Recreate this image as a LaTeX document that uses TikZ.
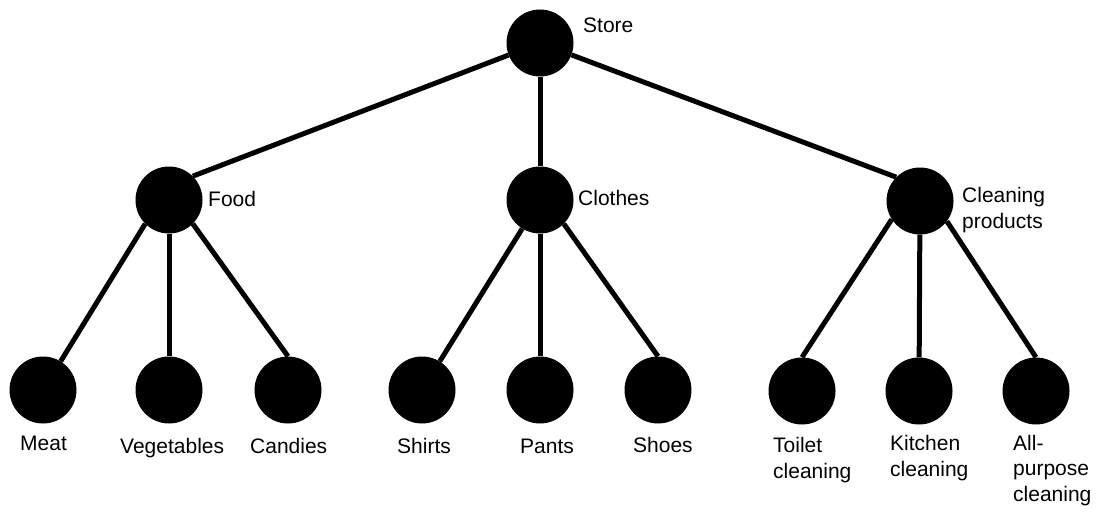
\documentclass[tikz,border=0pt]{standalone}
\usepackage{fontspec}
\setmainfont{Liberation Sans}
\begin{document}
\begin{tikzpicture}[x=1pt,y=-1pt,
  dot/.style={circle,fill=black,draw=none,minimum size=67pt,inner sep=0pt},
  link/.style={line width=5pt,draw=black},
  lab/.style={inner sep=0pt,font=\fontsize{21}{25.5}\selectfont,align=left,text=black}]
\useasboundingbox (0,0) rectangle (1102,511);
% circles
\node[dot] (store) at (540,43) {};
\node[dot] (food) at (169,200) {};
\node[dot] (clothes) at (540,200) {};
\node[dot] (clean) at (920,201) {};
\node[dot] (meat) at (43,390) {};
\node[dot] (veg) at (169,390) {};
\node[dot] (candies) at (288,390) {};
\node[dot] (shirts) at (422,390) {};
\node[dot] (pants) at (540,390) {};
\node[dot] (shoes) at (658,390) {};
\node[dot] (toilet) at (802,391) {};
\node[dot] (kitchen) at (919,391) {};
\node[dot] (allp) at (1036,391) {};
% connectors
\draw[link] (store) -- (food.north east);
\draw[link] (store) -- (clothes);
\draw[link] (store) -- (clean.north west);
\draw[link] (food.south west) -- (meat);
\draw[link] (food) -- (veg);
\draw[link] (food.south east) -- (candies.north);
\draw[link] (clothes) -- (shirts);
\draw[link] (clothes) -- (pants);
\draw[link] (clothes.south east) -- (shoes.north);
\draw[link] (clean.-147) -- (toilet.north);
\draw[link] (clean) -- (kitchen);
\draw[link] (clean.-37) -- (allp.north);
% labels (base anchor = baseline of last line)
\node[lab,anchor=base west] (tstore) at (583,33) {Store};
\node[lab,anchor=base west] (tfood) at (208,206) {Food};
\node[lab,anchor=base west] (tclothes) at (578,205) {Clothes};
\node[lab,anchor=base west] (tclean) at (962,228) {Cleaning\\products};
\node[lab,anchor=base west] (tmeat) at (20,450) {Meat};
\node[lab,anchor=base west] (tveg) at (120,453) {Vegetables};
\node[lab,anchor=base west] (tcandies) at (250,453) {Candies};
\node[lab,anchor=base west] (tshirts) at (397,453) {Shirts};
\node[lab,anchor=base west] (tpants) at (520,453) {Pants};
\node[lab,anchor=base west] (tshoes) at (633,452) {Shoes};
\node[lab,anchor=base west] (ttoilet) at (773,478) {Toilet\\cleaning};
\node[lab,anchor=base west] (tkitchen) at (890,476) {Kitchen\\cleaning};
\node[lab,anchor=base west] (tallp) at (1013,501) {All-\\purpose\\cleaning};
\end{tikzpicture}
\end{document}
